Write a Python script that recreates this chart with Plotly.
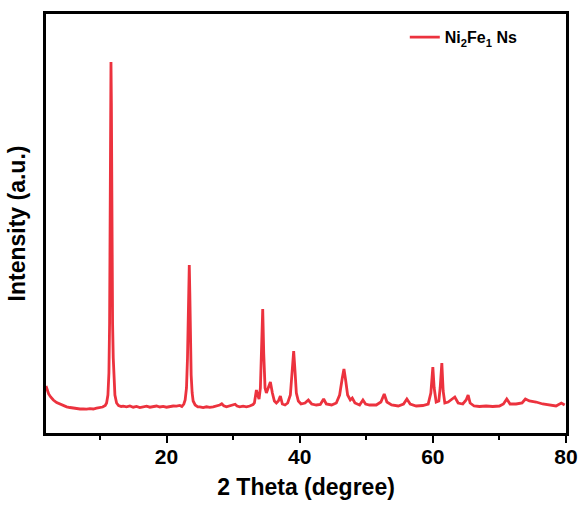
import plotly.graph_objects as go

# XRD pattern of Ni2Fe1 Ns (arbitrary units)
two_theta = [
    1.9, 2.1, 2.3, 2.6, 3.0, 3.5, 4.0, 4.5, 5.0, 5.5, 6.0, 6.5, 7.0, 7.5, 8.0, 8.5, 9.0, 9.5, 10.0, 10.4,
    10.8, 11.0, 11.2, 11.35, 11.45, 11.55, 11.62, 11.66, 11.72, 11.8, 11.9, 12.0, 12.1, 12.25, 12.5, 12.8, 13.2,
    13.5, 14.0, 14.5, 15.0, 15.5, 16.0, 16.5, 17.0, 17.5, 18.0, 18.5, 19.0, 19.5, 20.0, 20.5, 21.0, 21.5, 22.0,
    22.3, 22.6, 22.8, 23.0, 23.15, 23.25, 23.35, 23.42, 23.5, 23.6, 23.7, 23.85, 24.0, 24.3, 24.7,
    25.0, 25.5, 26.0, 26.5, 27.0, 27.5, 28.0, 28.3, 28.6, 29.0, 29.5, 30.0, 30.3, 30.6, 31.0, 31.5, 32.0, 32.5, 33.0,
    33.2, 33.5, 33.7, 33.9, 34.1, 34.3, 34.45, 34.6, 34.8, 35.0, 35.3, 35.6, 35.9, 36.2, 36.5, 36.8, 37.1, 37.4,
    37.8, 38.2, 38.6, 38.9, 39.1, 39.3, 39.5, 39.8, 40.2, 40.8, 41.3, 41.8, 42.5, 43.1, 43.6, 44.0, 44.8, 45.5,
    46.0, 46.4, 46.65, 46.9, 47.2, 47.6, 47.9, 48.3, 49.0, 49.5, 49.9, 50.5, 51.5, 52.2, 52.7, 53.1, 53.8, 54.8,
    55.6, 56.1, 56.6, 57.5, 58.5, 59.3, 59.7, 60.0, 60.2, 60.5, 60.9, 61.1, 61.35, 61.55, 61.8, 62.3, 62.8, 63.3,
    63.8, 64.5, 65.0, 65.3, 65.6, 66.2, 67.0, 68.0, 69.0, 70.0, 70.6, 71.1, 71.6, 72.5, 73.4, 73.9, 74.5, 75.5,
    76.5, 77.5, 78.5, 79.3, 79.8,
]
intensity = [
    470, 420, 390, 360, 330, 305, 290, 275, 262, 255, 248, 244, 240, 242, 238, 244, 240, 248, 252, 260,
    275, 300, 380, 600, 1100, 2300, 3500, 3710, 3300, 2000, 1100, 750, 520, 380, 300, 275, 265,
    268, 262, 270, 258, 265, 255, 262, 268, 258, 264, 270, 260, 266, 258, 264, 270, 268, 275,
    265, 290, 330, 450, 750, 1200, 1650, 1680, 1400, 900, 580, 400, 320, 280, 262,
    262, 255, 262, 256, 262, 268, 280, 292, 272, 262, 270, 278, 288, 270, 262, 268, 262, 270, 285,
    300, 430, 380, 340, 450, 900, 1240, 800, 450, 400, 460, 510, 400, 320, 300, 320, 370, 290,
    280, 300, 380, 600, 820, 620, 400, 320, 290, 300, 330, 290, 280, 285, 340, 290, 280, 300,
    380, 550, 640, 530, 380, 330, 350, 300, 280, 330, 290, 280, 280, 310, 390, 310, 280, 270,
    290, 340, 290, 270, 275, 290, 400, 660, 450, 310, 320, 450, 700, 420, 300, 310, 340, 360,
    300, 290, 330, 380, 300, 270, 265, 270, 265, 270, 290, 340, 290, 290, 300, 340, 320, 310,
    290, 280, 270, 300, 280,
]

series_name = "Ni<sub>2</sub>Fe<sub>1</sub> Ns"
x_ticks = [20, 40, 60, 80]

fig = go.Figure()
fig.add_trace(go.Scatter(
    x=two_theta, y=intensity, mode="lines", name=series_name,
    line=dict(color="rgb(236,50,62)", width=2.8),
    showlegend=True,
))

font_family = "Liberation Sans, Arial, sans-serif"

fig.update_layout(
    width=582, height=513,
    margin=dict(l=46, r=16, t=14, b=80),
    paper_bgcolor="white", plot_bgcolor="white",
    font=dict(family=font_family, color="black"),
    showlegend=True,
    legend=dict(
        x=0.69, y=0.985, xanchor="left", yanchor="top",
        bgcolor="rgba(0,0,0,0)", borderwidth=0,
        font=dict(size=16, family=font_family, color="black", weight="bold"),
    ),
    xaxis=dict(
        range=[1.9, 80], showline=True, linecolor="black", linewidth=2.5, mirror=True,
        showgrid=False, zeroline=False, automargin=False,
        tickvals=x_ticks, ticks="outside", ticklen=7, tickwidth=2, tickcolor="black",
        ticklabelstandoff=-4,
        tickfont=dict(size=21, family=font_family, color="black", weight="bold"),
        minor=dict(dtick=10, tick0=0, ticks="outside", ticklen=4, tickwidth=2, tickcolor="black"),
        title=dict(text="2 Theta (degree)", font=dict(size=23, family=font_family, color="black", weight="bold"), standoff=12),
    ),
    yaxis=dict(
        range=[0, 4190], showline=True, linecolor="black", linewidth=2.5, mirror=True,
        showgrid=False, zeroline=False, showticklabels=False, ticks="", automargin=False,
        title=dict(text="Intensity (a.u.)", font=dict(size=23, family=font_family, color="black", weight="bold"), standoff=12),
    ),
)

fig.write_html("out.html")
